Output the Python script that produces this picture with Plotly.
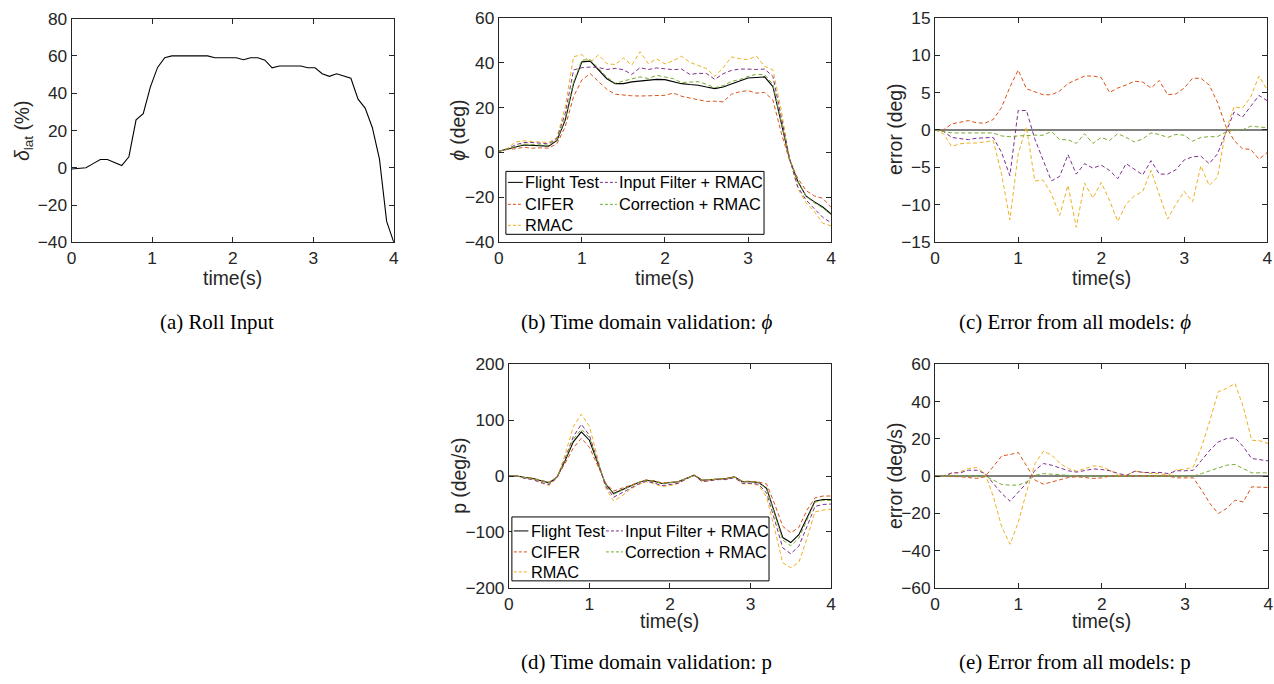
import plotly.graph_objects as go

W, H = 1274, 684
# the photographed page shows the figure slightly scaled about its centre;
# these factors pre-compensate so that the picture lands where the target is
SX, OX = 0.9916, 5.4
SY, OY = 0.972, 9.4
FS = 1.02

# ---------------- data ----------------
# (a) roll input
t_in = [0.0, 0.089, 0.178, 0.267, 0.356, 0.444, 0.533, 0.622, 0.711, 0.8, 0.889, 0.978,
        1.067, 1.156, 1.244, 1.333, 1.422, 1.511, 1.6, 1.689, 1.778, 1.867, 1.956, 2.044,
        2.133, 2.222, 2.311, 2.4, 2.489, 2.578, 2.667, 2.756, 2.844, 2.933, 3.022, 3.111,
        3.2, 3.289, 3.378, 3.467, 3.556, 3.644, 3.733, 3.822, 3.911, 4.0]
delta_lat = [-0.7, -0.2, 0, 2.2, 4.4, 4.4, 2.8, 1.2, 5.9, 25.7, 29, 43.4,
             53.8, 59, 60, 60, 60, 60, 60, 60, 59, 59, 59, 59,
             57.9, 59, 59, 57.7, 53.6, 54.6, 54.6, 54.6, 54.6, 53.6, 53.6, 50.4,
             49, 50.4, 49.3, 48, 36.8, 32, 21.6, 4.6, -28.8, -40]

# time base for validation (0 .. 4 s, 0.1 s)
t = [0.0, 0.1, 0.2, 0.3, 0.4, 0.5, 0.6, 0.7, 0.8, 0.9, 1.0, 1.1, 1.2, 1.3, 1.4, 1.5, 1.6,
     1.7, 1.8, 1.9, 2.0, 2.1, 2.2, 2.3, 2.4, 2.5, 2.6, 2.7, 2.8, 2.9, 3.0, 3.1, 3.2, 3.3,
     3.4, 3.5, 3.6, 3.7, 3.8, 3.9, 4.0]

# (b) roll angle phi
phi_flight = [0.5, 1.3, 2.4, 3.3, 3.1, 3.0, 2.8, 5.3, 14.5, 30.6, 40.3, 40.6, 36.6, 32.8,
              30.6, 30.6, 31.4, 31.8, 32.4, 32.5, 32.4, 31.4, 30.6, 30.2, 29.9, 29.1, 28.4,
              29.1, 30.6, 31.8, 33.1, 33.3, 33.6, 29.3, 12.5, -3, -13, -19.5, -22, -24.3, -27.4]
phi_cifer = [0.5, 1.3, 1.6, 2.3, 1.85, 2.05, 1.9, 3.9, 11.5, 24.9, 32.3, 35.1, 31.5, 28.1,
             25.9, 25.4, 25.2, 25.1, 25.2, 25.3, 25.4, 26.4, 25.0, 24.2, 23.4, 22.7, 22.8,
             22.5, 25.9, 27.0, 27.5, 26.4, 26.7, 23.3, 8.8, -3.5, -11.6, -17.0, -19.4, -20.4, -24.4]
phi_rmac = [0.5, 1.8, 4.6, 5.15, 4.85, 4.75, 4.4, 6.7, 20.4, 42.6, 43.5, 40.2, 43.4, 39.5,
            39.1, 42.0, 38.8, 44.8, 39.5, 41.6, 39.4, 40.8, 42.8, 40.1, 38.7, 37.3, 33.8,
            37.6, 42.5, 41.7, 41.3, 42.9, 38.4, 36.7, 18.8, -2.9, -16.1, -22.4, -26.4, -31.5, -32.7]
phi_input = [0.5, 1.5, 3.4, 4.4, 4.4, 4.1, 3.8, 6.3, 17.5, 36.7, 37.7, 38.0, 37.8, 36.9,
             37.4, 36.8, 34.7, 37.7, 36.9, 37.6, 37.1, 36.8, 37.1, 34.7, 35.2, 35.1, 32.5,
             35.0, 36.5, 37.1, 37.1, 36.9, 37.1, 33.8, 15.7, -2.7, -15.4, -21.2, -25.1, -28.9, -31.3]
phi_corr = [0.5, 1.5, 2.8, 3.7, 3.5, 3.4, 3.2, 5.7, 15.3, 31.5, 41.1, 41.3, 37.3, 33.5,
            30.8, 31.9, 32.7, 33.6, 32.9, 34.3, 33.4, 32.8, 31.1, 31.2, 31.5, 30.3, 28.8,
            29.7, 31.6, 32.4, 33.8, 34.8, 34.6, 30.2, 13.4, -2.7, -13, -19.5, -22.5, -24.7, -27.7]

# (c) phi error
phi_err_cifer = [0, 0, 0.8, 1.0, 1.25, 0.95, 0.9, 1.4, 3.0, 5.7, 8.0, 5.5, 5.1, 4.7, 4.7,
                 5.2, 6.2, 6.7, 7.2, 7.2, 7.0, 5.0, 5.6, 6.0, 6.5, 6.4, 5.6, 6.6, 4.7, 4.8,
                 5.6, 6.9, 6.9, 6.0, 3.7, 0.5, -1.4, -2.5, -2.6, -3.9, -3.0]
phi_err_rmac = [0, -0.5, -2.2, -1.85, -1.75, -1.75, -1.6, -1.4, -5.9, -12.0, -3.2, 0.4,
                -6.8, -6.7, -8.5, -11.4, -7.4, -13.0, -7.1, -9.1, -7.0, -9.4, -12.2, -9.9,
                -8.8, -8.2, -5.4, -8.5, -11.9, -9.9, -8.2, -9.6, -4.8, -7.4, -6.3, -0.1,
                3.1, 2.9, 4.4, 7.2, 5.3]
phi_err_input = [0, -0.2, -1.0, -1.1, -1.3, -1.1, -1.0, -1.0, -3.0, -6.1, 2.6, 2.6, -1.2,
                 -4.1, -6.8, -6.2, -3.3, -5.9, -4.5, -5.1, -4.7, -5.4, -6.5, -4.5, -5.3,
                 -6.0, -4.1, -5.9, -5.9, -5.3, -4.0, -3.6, -3.5, -4.5, -3.2, -0.3, 2.4,
                 1.7, 3.1, 4.6, 3.9]
phi_err_corr = [0, -0.2, -0.4, -0.4, -0.4, -0.4, -0.4, -0.4, -0.8, -0.9, -0.8, -0.7, -0.7,
                -0.7, -0.2, -1.3, -1.3, -1.8, -0.5, -1.8, -1.0, -1.4, -0.5, -1.0, -1.6,
                -1.2, -0.4, -0.6, -1.0, -0.6, -0.7, -1.5, -1.0, -0.9, -0.9, -0.3, 0, 0,
                0.5, 0.4, 0.3]

# (d) roll rate p
p_flight = [0, 0, -2.7, -4.5, -8.6, -12.2, -1.5, 28, 61, 79, 64, 25, -14.6, -31.3, -25,
            -18, -12.2, -7.5, -9.2, -13.4, -12.2, -10.4, -4.5, 1.5, -7.5, -6.3, -4.5, -4.5,
            -1.5, -10.4, -10.4, -11.6, -22, -65, -110, -119, -105, -75, -45, -42, -42]
p_cifer = [0, 0, -2.7, -4.1, -7.8, -10.9, -1.1, 23.1, 50.2, 67.5, 51.4, 19.7, -12.4, -26.9,
           -21.9, -16.1, -11.4, -7.1, -8.4, -12.1, -11.2, -10.4, -4.5, 1.5, -7.5, -6.3, -4.5,
           -4.5, -1.5, -9.4, -9.4, -10.6, -14.4, -50.2, -89.9, -101.6, -92, -61.1, -39.2,
           -35.8, -35.8]
p_rmac = [0, 0, -4.0, -6.7, -12.6, -16.8, -2.8, 39.2, 88.3, 110.6, 88.6, 33.1, -21.3, -44.6,
          -36.2, -24.7, -16.2, -10.1, -13.2, -18.9, -17.1, -13.5, -4.9, 1.1, -10.1, -8.2,
          -5.8, -5.8, -1.9, -13.9, -13.9, -16.5, -37.7, -95, -155.2, -164, -154.6, -112.1,
          -64.2, -60.9, -59.4]
p_input = [0, 0, -4.4, -6.2, -11.7, -15.3, -2.8, 32, 70.4, 92.5, 72.5, 28.7, -17.7, -38,
           -30.8, -22.4, -15, -9.6, -12.3, -17.2, -15.7, -13.2, -5.8, 1.1, -10.1, -8.2, -6.4,
           -6.4, -2.8, -13.2, -13.2, -14.7, -30.5, -78.9, -128.3, -139.1, -125.5, -90.7,
           -54.4, -50.9, -50.1]
p_corr = [0, 0, -2.7, -4.5, -8.6, -12.2, -1.5, 30.2, 65.6, 83.9, 68.9, 28.1, -15, -32.6,
          -26, -18.4, -12.2, -7.5, -9.2, -13.4, -12.2, -10.4, -4.5, 1.5, -7.5, -6.3, -4.5,
          -4.5, -1.5, -10.4, -10.4, -11.6, -23.3, -67.8, -114.4, -124.8, -111.2, -79, -46.7,
          -43.7, -43.7]

# (e) p error
p_err_cifer = [0, 0, 0, -0.4, -0.8, -1.3, -0.4, 4.9, 10.8, 11.5, 12.6, 5.3, -2.2, -4.4,
               -3.1, -1.9, -0.8, -0.4, -0.8, -1.3, -1.0, 0, 0, 0, 0, 0, 0, 0, 0, -1.0,
               -1.0, -1.0, -7.6, -14.8, -20.1, -17.4, -13.0, -13.9, -5.8, -6.2, -6.2]
p_err_rmac = [0, 0, 1.3, 2.2, 4.0, 4.6, 1.3, -11.2, -27.3, -36.6, -24.6, -8.1, 6.7, 13.3,
              11.2, 6.7, 4.0, 2.6, 4.0, 5.5, 4.9, 3.1, 0.4, 0.4, 2.6, 1.9, 1.3, 1.3, 0.4,
              3.5, 3.5, 4.9, 15.7, 30, 45.2, 47, 49.6, 37.1, 19.2, 18.9, 17.4]
p_err_input = [0, 0, 1.7, 1.7, 3.1, 3.1, 1.3, -4.0, -9.4, -13.5, -8.5, -3.7, 3.1, 6.7, 5.8,
               4.4, 2.8, 2.1, 3.1, 3.8, 3.5, 2.8, 1.3, 0.4, 2.6, 1.9, 1.9, 1.9, 1.3, 2.8,
               2.8, 3.1, 8.5, 13.9, 18.3, 20.1, 20.5, 15.7, 9.4, 8.9, 8.1]
p_err_corr = [0, 0, 0, 0, 0, 0, 0, -2.2, -4.6, -4.9, -4.9, -3.1, 0.4, 1.3, 1.0, 0.4, 0, 0,
              0, 0, 0, 0, 0, 0, 0, 0, 0, 0, 0, 0, 0, 0, 1.3, 2.8, 4.4, 5.8, 6.2, 4.0, 1.7,
              1.7, 1.7]

zero_t = [0, 4]
zero_v = [0, 0]

series_names = ["Flight Test", "CIFER", "RMAC", "Input Filter + RMAC", "Correction + RMAC"]
series_colors = ["#000000", "#D95319", "#EDB120", "#7E2F8E", "#77AC30"]

captions = ["(a) Roll Input", "(b) Time domain validation: <i>ϕ</i>",
            "(c) Error from all models: <i>ϕ</i>", "(d) Time domain validation: p",
            "(e) Error from all models: p"]

# ---------------- styling ----------------
SANS = "Liberation Sans, Arial, Helvetica, sans-serif"
SERIF = "Liberation Serif, Times New Roman, serif"
AX = "#262626"
DASH = "4px,2.6px"

def px(x):
    return (x - OX) / SX / W

def py(y):
    return 1 - (y - OY) / SY / H

def clamp(v):
    return min(1.0, max(0.0, v))

# axis boxes in target pixels (left, right, top, bottom)
boxes = {
    1: (72, 394, 18, 242),
    2: (499, 831, 17, 242),
    3: (935, 1267, 17, 242),
    4: (509, 831, 364, 588),
    5: (935, 1268, 364, 588),
}
yranges = {1: ([-40, 80], 20), 2: ([-40, 60], 20), 3: ([-15, 15], 5),
           4: ([-200, 200], 100), 5: ([-60, 60], 20)}

fig = go.Figure()

def add_line(i, x, y, color, solid=False, width=1.0):
    fig.add_trace(go.Scatter(
        x=x, y=y, mode="lines", showlegend=False, hoverinfo="skip",
        line=dict(color=color, width=width, dash=None if solid else DASH),
        xaxis="x" if i == 1 else f"x{i}", yaxis="y" if i == 1 else f"y{i}"))

# (a)
add_line(1, t_in, delta_lat, "#000000", solid=True, width=1.1)
# (b)
for k, ys in enumerate([phi_flight, phi_cifer, phi_rmac, phi_input, phi_corr]):
    add_line(2, t, ys, series_colors[k], solid=(k == 0), width=1.1 if k == 0 else 1.0)
# (c)
add_line(3, zero_t, zero_v, "#000000", solid=True, width=1.1)
for k, ys in enumerate([phi_err_cifer, phi_err_rmac, phi_err_input, phi_err_corr]):
    add_line(3, t, ys, series_colors[k + 1])
# (d)
for k, ys in enumerate([p_flight, p_cifer, p_rmac, p_input, p_corr]):
    add_line(4, t, ys, series_colors[k], solid=(k == 0), width=1.1 if k == 0 else 1.0)
# (e)
add_line(5, zero_t, zero_v, "#000000", solid=True, width=1.1)
for k, ys in enumerate([p_err_cifer, p_err_rmac, p_err_input, p_err_corr]):
    add_line(5, t, ys, series_colors[k + 1])

layout = dict(width=W, height=H, margin=dict(l=0, r=0, t=0, b=0),
              paper_bgcolor="white", plot_bgcolor="white", showlegend=False,
              font=dict(family=SANS, color=AX))

for i, (l, r, tp, bt) in boxes.items():
    common = dict(showline=True, linecolor=AX, linewidth=1, mirror="allticks",
                  ticks="inside", ticklen=5, tickwidth=1, tickcolor=AX,
                  showgrid=False, zeroline=False,
                  tickfont=dict(family=SANS, size=17 * FS, color=AX))
    xa = dict(common, domain=[clamp(px(l)), clamp(px(r))], range=[0, 4], tick0=0, dtick=1,
              anchor="y" if i == 1 else f"y{i}")
    rng, dt = yranges[i]
    ya = dict(common, domain=[clamp(py(bt)), clamp(py(tp))], range=rng, tick0=rng[0],
              dtick=dt, anchor="x" if i == 1 else f"x{i}")
    layout["xaxis" if i == 1 else f"xaxis{i}"] = xa
    layout["yaxis" if i == 1 else f"yaxis{i}"] = ya

fig.update_layout(**layout)

ann = []
shapes = []

# axis titles
xt_rows = {1: 278, 2: 278, 3: 278, 4: 621, 5: 621}
for i, (l, r, tp, bt) in boxes.items():
    ann.append(dict(x=px((l + r) / 2), y=py(xt_rows[i]), xref="paper", yref="paper",
                    text="time(s)", showarrow=False, xanchor="center", yanchor="middle",
                    font=dict(family=SANS, size=19 * FS, color=AX)))

ytitles = [(1, 24, "<i>δ</i><sub>lat</sub> (%)"), (2, 458, "<i>ϕ</i> (deg)"),
           (3, 895, "error (deg)"), (4, 459, "p (deg/s)"), (5, 895, "error (deg/s)")]
for i, xc, txt in ytitles:
    l, r, tp, bt = boxes[i]
    ann.append(dict(x=px(xc), y=py((tp + bt) / 2), xref="paper", yref="paper",
                    text=txt, showarrow=False, textangle=-90, xanchor="center",
                    yanchor="middle", font=dict(family=SANS, size=19 * FS, color=AX)))

# captions
cap_pos = [(217, 322), (647, 322), (1075, 322), (647, 662), (1075, 662)]
for (cx, cy), txt in zip(cap_pos, captions):
    ann.append(dict(x=px(cx), y=py(cy), xref="paper", yref="paper", text=txt,
                    showarrow=False, xanchor="center", yanchor="middle",
                    font=dict(family=SERIF, size=20.5 * FS, color="#000000")))

# legends (two columns, column-major order like the original)
def legend(box, rows, c1, c2):
    x0, x1, y0, y1 = box
    shapes.append(dict(type="rect", xref="paper", yref="paper", x0=px(x0), x1=px(x1),
                       y0=py(y1), y1=py(y0), line=dict(color="#000000", width=1),
                       fillcolor="white", layer="above"))
    slots = [(c1, rows[0]), (c1, rows[1]), (c1, rows[2]), (c2, rows[0]), (c2, rows[1])]
    for k, ((sx0, sx1), yy) in enumerate(slots):
        shapes.append(dict(type="line", xref="paper", yref="paper", x0=px(sx0), x1=px(sx1),
                           y0=py(yy), y1=py(yy), layer="above",
                           line=dict(color=series_colors[k], width=1,
                                     dash="solid" if k == 0 else "3px,2px")))
        ann.append(dict(x=px(sx1 + 0.5), y=py(yy), xref="paper", yref="paper",
                        text=series_names[k], showarrow=False, xanchor="left",
                        yanchor="middle", font=dict(family=SANS, size=16 * FS,
                                                    color="#000000")))

legend((506, 764, 171, 234), (182, 204, 225), (508, 523), (600, 617))
legend((512, 769, 517, 581), (531, 552, 572), (514, 528.5), (606, 623))

fig.update_layout(annotations=ann, shapes=shapes)

fig.write_html("out.html", config={"displayModeBar": False})
